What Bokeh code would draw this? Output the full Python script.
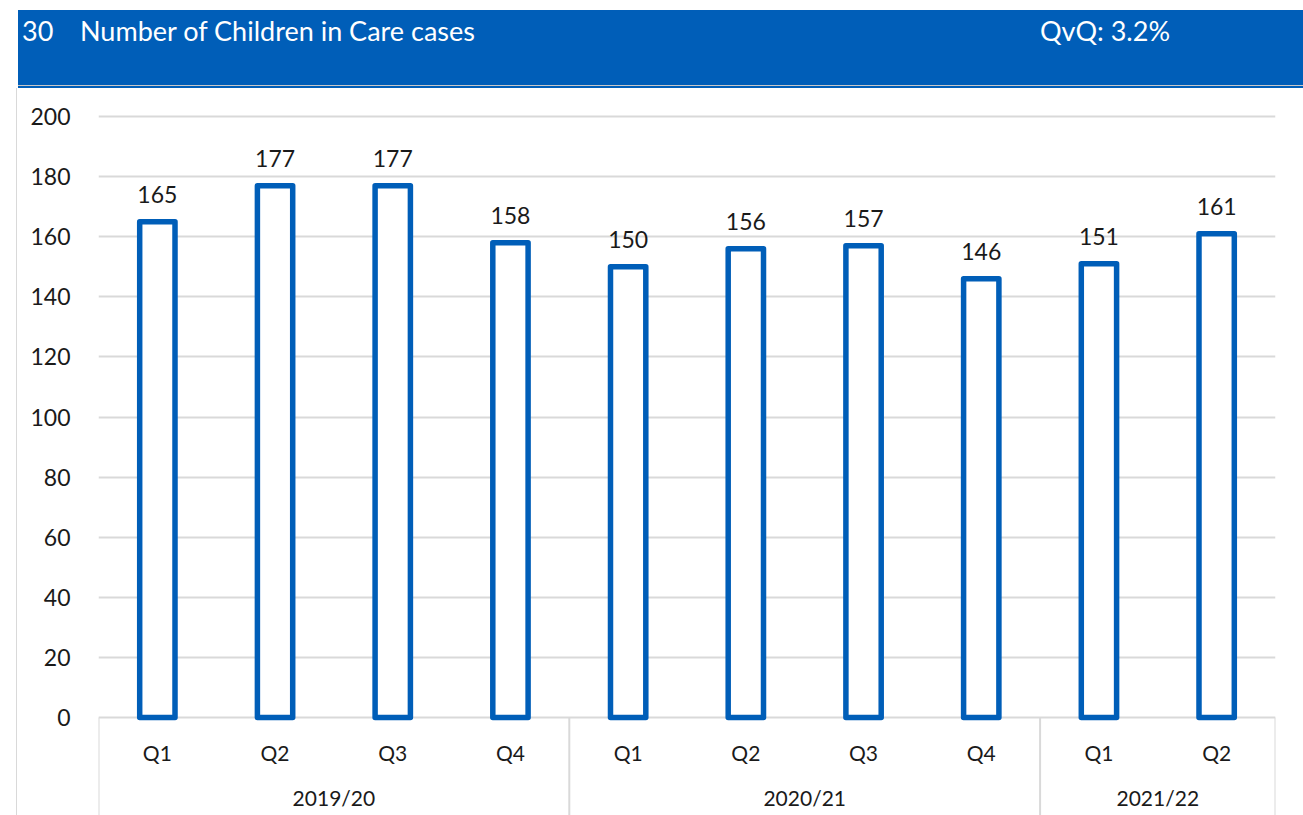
from bokeh.plotting import figure
from bokeh.models import (FactorRange, Range1d, FixedTicker, ColumnDataSource, Div, Spacer)
from bokeh.layouts import column, row
from bokeh.core.properties import value
from bokeh.embed import file_html
from bokeh.resources import INLINE

# ---- data ----
years = ["2019/20", "2019/20", "2019/20", "2019/20",
         "2020/21", "2020/21", "2020/21", "2020/21",
         "2021/22", "2021/22"]
quarters = ["Q1", "Q2", "Q3", "Q4", "Q1", "Q2", "Q3", "Q4", "Q1", "Q2"]
cases = [165, 177, 177, 158, 150, 156, 157, 146, 151, 161]
year_groups = ["2019/20", "2020/21", "2021/22"]
y_ticks = [0, 20, 40, 60, 80, 100, 120, 140, 160, 180, 200]
chart_number = "30"
chart_title = "Number of Children in Care cases"
qvq_text = "QvQ: 3.2%"

BLUE = "#005EB8"
GRID = "#d9d9d9"
FONT = "Lato"

factors = list(zip(years, quarters))

# ---- header ----
header_html = f"""
<div style="position:relative;width:1303px;height:88px;">
  <div style="position:absolute;left:18px;top:10px;width:1285px;height:75px;background:{BLUE};
              color:white;font-family:{FONT};font-size:27px;">
    <span style="position:absolute;left:4px;top:2px;">{chart_number}</span>
    <span style="position:absolute;left:62px;top:2px;">{chart_title}</span>
    <span style="position:absolute;left:1022px;top:2px;">{qvq_text}</span>
  </div>
  <div style="position:absolute;left:18px;top:85px;width:1285px;height:1px;background:#c8c8c8;"></div>
  <div style="position:absolute;left:18px;top:86px;width:1285px;height:2px;background:{BLUE};"></div>
</div>
"""
header = Div(text=header_html, width=1303, height=88, margin=(0, 0, 0, 0))

# ---- chart ----
x_range = FactorRange(*factors, group_padding=0, factor_padding=0,
                      subgroup_padding=0, range_padding=0)
y_range = Range1d(-32.6, 206.0)

p = figure(x_range=x_range, y_range=y_range, width=1286, height=727,
           output_backend="svg", toolbar_location=None, tools="",
           min_border_left=81, min_border_right=28, min_border_top=10,
           min_border_bottom=0, background_fill_color="white",
           border_fill_color="white", outline_line_color=None)

src = ColumnDataSource(dict(x=factors, y=cases, lbl=[str(v) for v in cases],
                            q=quarters))

p.vbar(x="x", top="y", bottom=0, width=0.3, source=src, fill_color="white",
       line_color=BLUE, line_width=5.5, line_join="round")

p.text(x="x", y="y", text="lbl", source=src, text_font=value(FONT),
       text_font_size="23px", text_align="center", text_baseline="bottom",
       y_offset=-19, text_color="#1a1a1a")

# category labels below zero
p.text(x="x", y=0, text="q", source=src, text_font=value(FONT),
       text_font_size="21px", text_align="center", text_baseline="middle",
       y_offset=35, text_color="#1a1a1a")

grp_src = ColumnDataSource(dict(x=year_groups, t=year_groups))
p.text(x="x", y=0, text="t", source=grp_src, text_font=value(FONT),
       text_font_size="21px", text_align="center", text_baseline="middle",
       y_offset=80, text_color="#1a1a1a")

# separators
sep_x = [("2019/20", "Q1", -0.5), ("2020/21", "Q1", -0.5),
         ("2021/22", "Q1", -0.5), ("2021/22", "Q2", 0.5)]
sep_src = ColumnDataSource(dict(x=sep_x, y0=[0] * 4, y1=[y_range.start] * 4))
p.segment(x0="x", y0="y0", x1="x", y1="y1", source=sep_src,
          line_color=GRID, line_width=2)

p.xaxis.visible = False
p.xgrid.visible = False
p.yaxis.ticker = FixedTicker(ticks=y_ticks)
p.ygrid.ticker = FixedTicker(ticks=y_ticks)
p.ygrid.grid_line_color = GRID
p.ygrid.grid_line_width = 2
p.yaxis.axis_line_color = None
p.yaxis.major_tick_line_color = None
p.yaxis.minor_tick_line_color = None
p.yaxis.major_label_text_font = FONT
p.yaxis.major_label_text_font_size = "23px"
p.yaxis.major_label_text_color = "#1a1a1a"
p.yaxis.major_label_standoff = 22

left_line = Spacer(width=1, height=727, styles={"background-color": GRID})
left_pad = Spacer(width=16, height=727)

layout = column(header, row(left_pad, left_line, p, spacing=0), spacing=0)

open("out.html", "w").write(file_html(layout, INLINE))
